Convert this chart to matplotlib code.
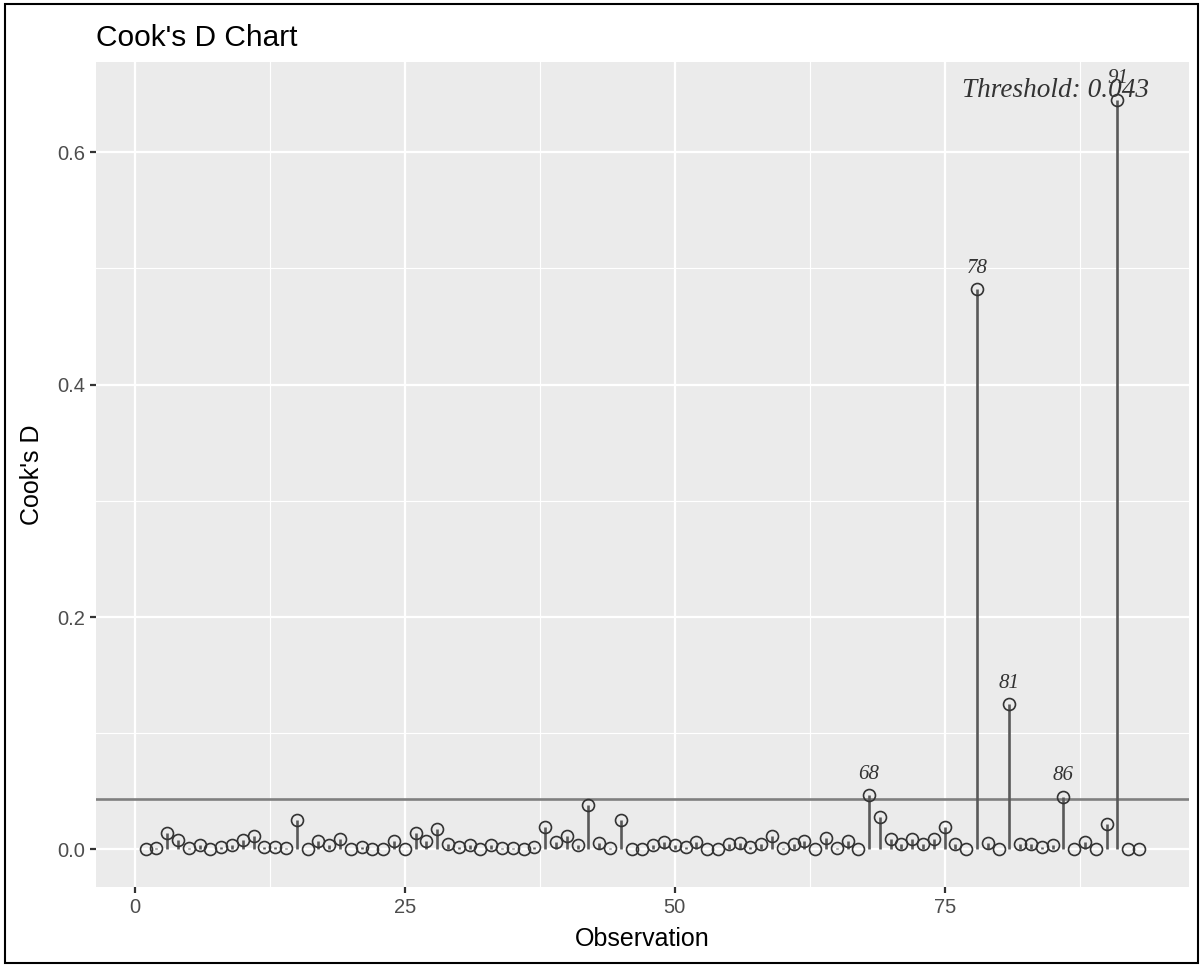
import matplotlib
matplotlib.use("Agg")
import matplotlib.pyplot as plt
from matplotlib.patches import Rectangle
import numpy as np

observation = list(range(1, 94))
cooks_d = [
    0.000, 0.001, 0.014, 0.008, 0.001, 0.004, 0.000, 0.002, 0.004, 0.008,
    0.012, 0.002, 0.002, 0.001, 0.025, 0.000, 0.007, 0.0035, 0.009, 0.000,
    0.002, 0.000, 0.000, 0.007, 0.000, 0.014, 0.007, 0.018, 0.0045, 0.002,
    0.004, 0.000, 0.004, 0.0015, 0.0015, 0.000, 0.002, 0.019, 0.006, 0.012,
    0.004, 0.038, 0.0055, 0.0015, 0.025, 0.000, 0.000, 0.004, 0.0065, 0.0035,
    0.002, 0.0065, 0.000, 0.000, 0.005, 0.0057, 0.0023, 0.005, 0.0115, 0.0014,
    0.0043, 0.0077, 0.000, 0.010, 0.0014, 0.0072, 0.000, 0.0465, 0.028, 0.0086,
    0.0043, 0.0086, 0.0043, 0.0086, 0.019, 0.005, 0.000, 0.4823, 0.0057, 0.000,
    0.1249, 0.0043, 0.0043, 0.002, 0.0037, 0.0453, 0.0006, 0.0066, 0.000, 0.022,
    0.6453, 0.000, 0.000,
]
threshold = 0.043
threshold_label = "Threshold: 0.043"
x_ticks = [0, 25, 50, 75]
y_ticks = [0.0, 0.2, 0.4, 0.6]
y_tick_labels = ["0.0", "0.2", "0.4", "0.6"]

fig = plt.figure(figsize=(12.02, 9.65), dpi=100)
ax = fig.add_axes([96 / 1202, 78 / 965, (1188.7 - 96) / 1202, (887 - 62) / 965])
ax.set_facecolor("#EBEBEB")
for s in ax.spines.values():
    s.set_visible(False)

x = np.array(observation)
y = np.array(cooks_d)

# grid
ax.set_xticks(x_ticks)
ax.set_xticks([12.5, 37.5, 62.5, 87.5], minor=True)
ax.set_yticks(y_ticks)
ax.set_yticklabels(y_tick_labels)
ax.set_yticks([0.1, 0.3, 0.5], minor=True)
ax.grid(which="major", color="white", linewidth=1.6)
ax.grid(which="minor", color="white", linewidth=0.8)
ax.set_axisbelow(True)
ax.tick_params(which="minor", length=0)
ax.tick_params(which="major", length=4, width=1.6, color="#333333",
               labelsize=14.5, labelcolor="#4D4D4D", pad=4)

# threshold line
ax.axhline(threshold, color="#7F7F7F", linewidth=1.9, zorder=2)

# stems
ax.vlines(x, 0, y, color="#595959", linewidth=1.9, zorder=3)
ax.plot(x, y, linestyle="none", marker="o", markersize=8.6,
        markerfacecolor="none", markeredgecolor="#333333",
        markeredgewidth=1.2, zorder=4)

# outlier labels
for xi, yi in zip(x, y):
    if yi > threshold:
        ax.annotate(str(xi), (xi, yi), xytext=(0, 15), textcoords="offset points",
                    ha="center", va="center", fontsize=15, style="italic",
                    family="Liberation Serif", color="#333333", zorder=5)

ax.text(93.96, 0.6528, threshold_label, ha="right", va="center", fontsize=19.6,
        style="italic", family="Liberation Serif", color="#333333", zorder=5)

ax.set_xlim(-3.6, 97.6)
ax.set_ylim(-0.0323, 0.6776)

ax.set_xlabel("Observation", fontsize=18, family="Liberation Sans", color="black", labelpad=7)
ax.set_ylabel("Cook's D", fontsize=18, family="Liberation Sans", color="black", labelpad=9)
for lab in ax.get_xticklabels() + ax.get_yticklabels():
    lab.set_family("Liberation Sans")

fig.text(96 / 1202, 1 - 38 / 965, "Cook's D Chart", ha="left", va="center",
         fontsize=21.5, family="Liberation Sans", color="black")

fig.patches.append(Rectangle((5 / 1202, 2 / 965), 1193 / 1202, 959 / 965,
                             transform=fig.transFigure, fill=False,
                             edgecolor="black", linewidth=1.5))

fig.savefig("out.png", dpi=100)
